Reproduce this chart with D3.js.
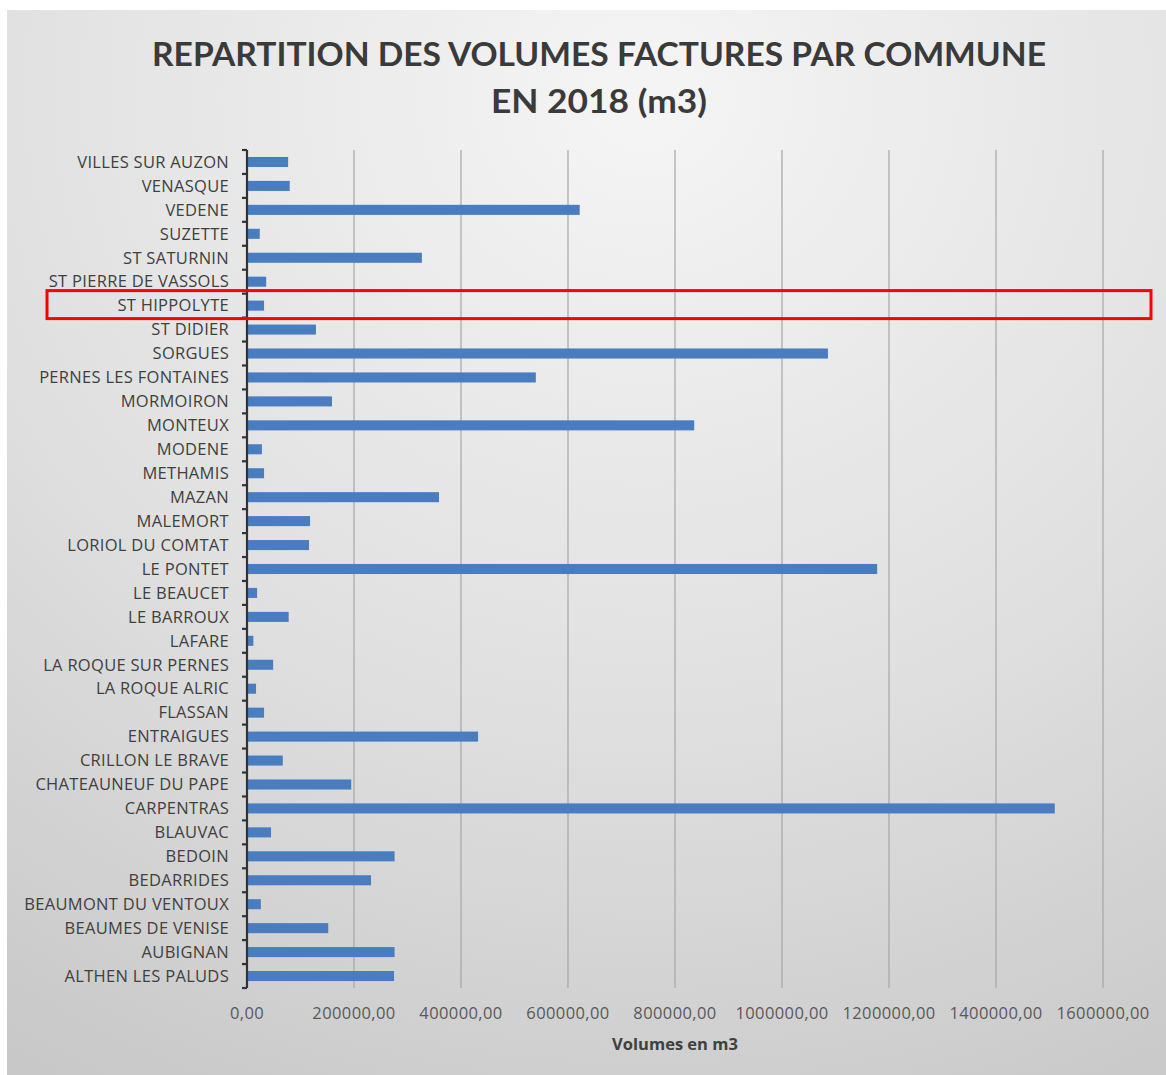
<!DOCTYPE html>
<html>
<head>
<meta charset="utf-8">
<script src="https://cdn.jsdelivr.net/npm/d3@7"></script>
<style>
  body { margin: 0; background: #fff; }
  text { font-family: "Open Sans", Lato, sans-serif; }
</style>
</head>
<body>
<div id="chart"></div>
<script>
// communes, top to bottom as drawn
var communes = ["VILLES SUR AUZON", "VENASQUE", "VEDENE", "SUZETTE", "ST SATURNIN",
  "ST PIERRE DE VASSOLS", "ST HIPPOLYTE", "ST DIDIER", "SORGUES", "PERNES LES FONTAINES",
  "MORMOIRON", "MONTEUX", "MODENE", "METHAMIS", "MAZAN", "MALEMORT", "LORIOL DU COMTAT",
  "LE PONTET", "LE BEAUCET", "LE BARROUX", "LAFARE", "LA ROQUE SUR PERNES", "LA ROQUE ALRIC",
  "FLASSAN", "ENTRAIGUES", "CRILLON LE BRAVE", "CHATEAUNEUF DU PAPE", "CARPENTRAS", "BLAUVAC",
  "BEDOIN", "BEDARRIDES", "BEAUMONT DU VENTOUX", "BEAUMES DE VENISE", "AUBIGNAN", "ALTHEN LES PALUDS"]

// volumes factures 2018 (m3)
var volumes = [75000, 78000, 620000, 22000, 325000,
  34000, 30000, 127000, 1084000, 538000,
  157000, 834000, 26000, 30000, 357000, 116000, 114000,
  1176000, 17000, 76000, 10000, 47000, 15000,
  30000, 430000, 65000, 193000, 1508000, 43000,
  274000, 230000, 24000, 150000, 274000, 273000]

var xTicks = [0, 200000, 400000, 600000, 800000, 1000000, 1200000, 1400000, 1600000]
var highlighted = "ST HIPPOLYTE"

var W = 1166, H = 1075
var margin = {top: 150, bottom: 87, left: 247, right: 63}
var width = W - margin.left - margin.right,
    height = H - margin.top - margin.bottom

var svg = d3.select("#chart").append("svg")
  .attr("width", W).attr("height", H)

var defs = svg.append("defs")
var grad = defs.append("radialGradient").attr("id", "bg")
  .attr("cx", "55%").attr("cy", "8%").attr("r", "105%")
grad.append("stop").attr("offset", "0%").attr("stop-color", "#f5f5f5")
grad.append("stop").attr("offset", "55%").attr("stop-color", "#e0e0e0")
grad.append("stop").attr("offset", "100%").attr("stop-color", "#c8c8c8")

svg.append("rect").attr("x", 7).attr("y", 10).attr("width", W - 7).attr("height", H - 10)
  .attr("fill", "url(#bg)")

// title
var title = svg.append("text").attr("text-anchor", "middle")
  .attr("fill", "#3a3a3a").attr("font-weight", "bold").attr("font-size", 33)
  .style("font-family", "Lato, 'Open Sans', sans-serif")
title.append("tspan").attr("x", 599).attr("y", 66).text("REPARTITION DES VOLUMES FACTURES PAR COMMUNE")
  .attr("textLength", 894).attr("lengthAdjust", "spacingAndGlyphs")
title.append("tspan").attr("x", 599).attr("y", 113).text("EN 2018 (m3)")
  .attr("textLength", 216).attr("lengthAdjust", "spacingAndGlyphs")

var g = svg.append("g").attr("transform", "translate(" + margin.left + "," + margin.top + ")")

var x = d3.scaleLinear().domain([0, 1600000]).range([0, 856])
var y = d3.scaleBand().domain(communes).range([0, height]).paddingInner(0.58).paddingOuter(0.29)

// vertical gridlines
g.selectAll(".grid").data(xTicks.slice(1)).enter().append("line")
  .attr("x1", function(d) { return x(d) }).attr("x2", function(d) { return x(d) })
  .attr("y1", 0).attr("y2", height)
  .attr("stroke", "#a6a6a6").attr("stroke-width", 1.2)

// bars
g.selectAll(".bar").data(communes).enter().append("rect")
  .attr("x", 1)
  .attr("y", function(d) { return y(d) })
  .attr("height", y.bandwidth())
  .attr("width", function(d, i) { return x(volumes[i]) })
  .attr("fill", "#4a7dbf")

// category axis: line with ticks at band edges
var edges = d3.range(communes.length + 1).map(function(i) { return i * height / communes.length })
g.append("line").attr("x1", 0).attr("x2", 0).attr("y1", 0).attr("y2", height)
  .attr("stroke", "#333").attr("stroke-width", 2.2)
g.selectAll(".ytick").data(edges).enter().append("line")
  .attr("x1", -5).attr("x2", 0)
  .attr("y1", function(d) { return d }).attr("y2", function(d) { return d })
  .attr("stroke", "#333").attr("stroke-width", 2.2)

g.selectAll(".ylab").data(communes).enter().append("text")
  .attr("x", -18)
  .attr("y", function(d) { return y(d) + y.bandwidth() / 2 })
  .attr("dy", "0.35em")
  .attr("text-anchor", "end")
  .attr("font-size", 16.5)
  .attr("letter-spacing", 0.3)
  .attr("fill", "#404040")
  .text(function(d) { return d })

// value axis labels
g.selectAll(".xlab").data(xTicks).enter().append("text")
  .attr("x", function(d) { return x(d) })
  .attr("y", height + 31)
  .attr("text-anchor", "middle")
  .attr("font-size", 16.5)
  .attr("letter-spacing", 0.4)
  .attr("fill", "#595959")
  .text(function(d) { return d3.format("d")(d) + ",00" })

g.append("text")
  .attr("x", 428).attr("y", height + 62)
  .attr("text-anchor", "middle")
  .attr("font-size", 16.5).attr("font-weight", "bold")
  .attr("fill", "#404040")
  .text("Volumes en m3")

// highlight box
g.append("rect")
  .attr("x", 47 - margin.left)
  .attr("y", y(highlighted) - 10)
  .attr("width", 1104)
  .attr("height", 28)
  .attr("fill", "none")
  .attr("stroke", "#ff0000")
  .attr("stroke-width", 3)
</script>
</body>
</html>
